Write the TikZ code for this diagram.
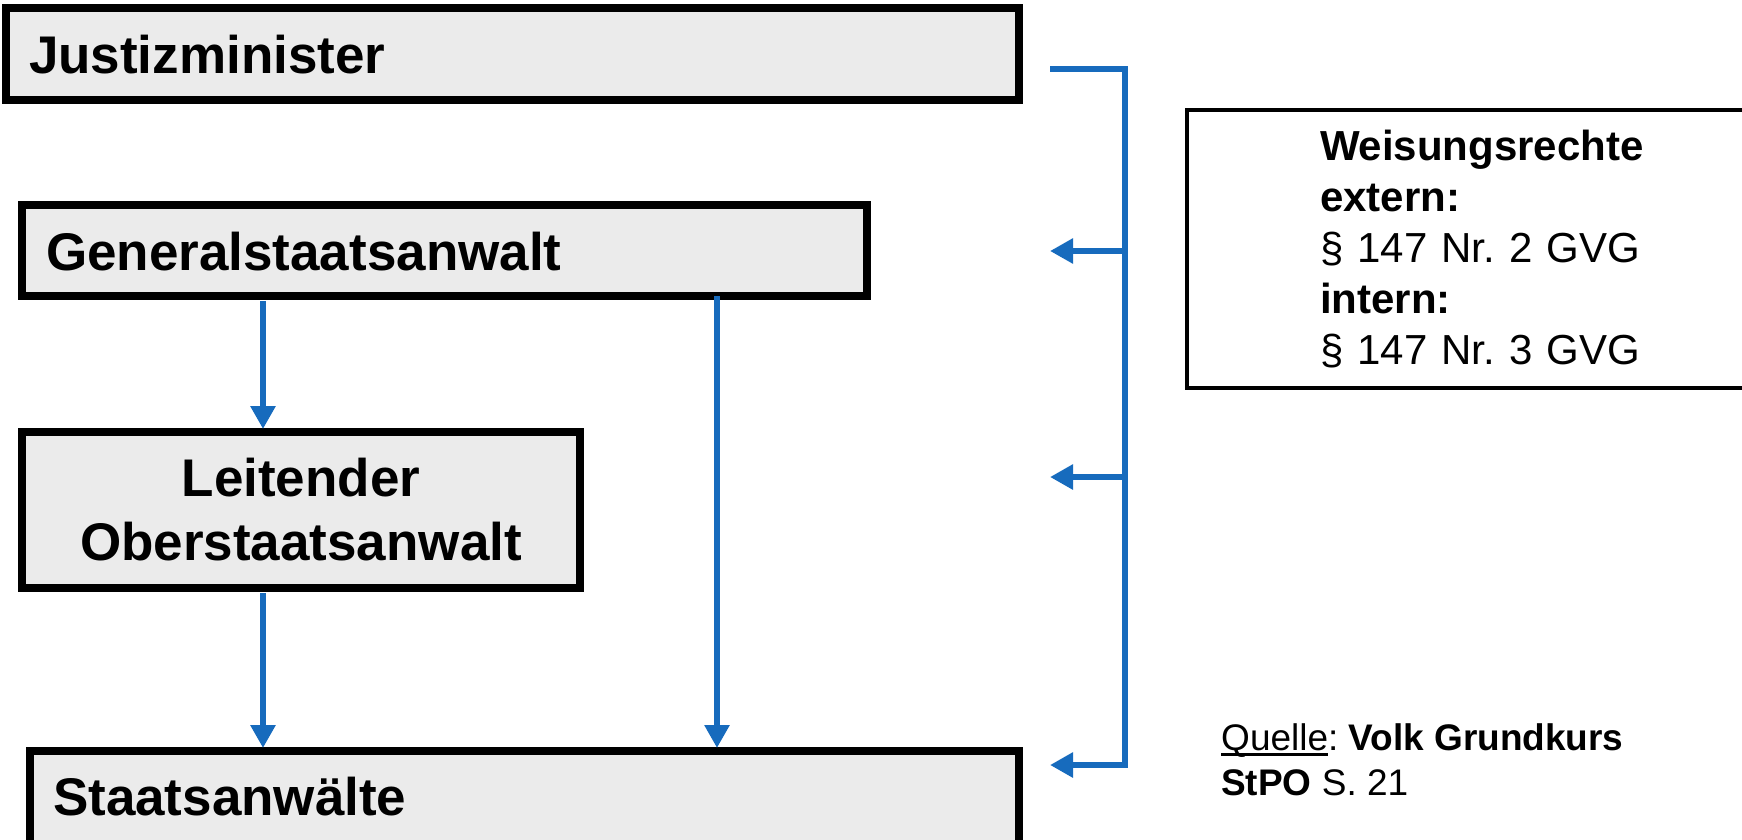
\documentclass[tikz,border=0pt]{standalone}
\usepackage{fontspec}
\setmainfont{Liberation Sans}
\usetikzlibrary{arrows.meta}
\definecolor{boxgray}{RGB}{235,235,235}
\definecolor{lineblue}{RGB}{23,107,189}
\newcommand\thickul[1]{\setbox0\hbox{#1}\rlap{\rule[-6pt]{\wd0}{3pt}}\box0}
\begin{document}
\frenchspacing
\begin{tikzpicture}[x=1pt,y=-1pt,
  orgbox/.style={draw=black, line width=8pt, fill=boxgray, rectangle, inner ysep=0pt, outer sep=0pt,
    font=\fontsize{53}{64}\selectfont\bfseries},
  infobox/.style={draw=black, line width=4pt, fill=white, rectangle, inner ysep=0pt, outer sep=0pt,
    font=\fontsize{42}{51}\selectfont},
  blueline/.style={draw=lineblue, line width=6.5pt},
  bluearrow/.style={blueline, -{Triangle[length=23pt,width=24pt]}},
]
\useasboundingbox (0,0) rectangle (1742,840);

% boxes
\node[orgbox, anchor=north west, minimum width=1013pt, minimum height=92pt,
      text width=967pt, inner xsep=23pt, align=left, text height=40pt, text depth=0pt]
  (jm) at (6,8) {Justizminister};
\node[orgbox, anchor=north west, minimum width=845pt, minimum height=91pt,
      text width=797pt, inner xsep=24pt, align=left, text height=39pt, text depth=0pt]
  (gen) at (22,205) {Generalstaatsanwalt};
\node[orgbox, anchor=north west, minimum width=558pt, minimum height=156pt,
      text width=520pt, inner xsep=19pt, align=center]
  (lo) at (22,432) {Leitender\\Oberstaatsanwalt};
\node[orgbox, anchor=north west, minimum width=989pt, minimum height=105pt,
      text width=943pt, inner xsep=23pt, align=left, text height=40pt, text depth=17pt]
  (sa) at (30,751) {Staatsanwälte};

\node[infobox, anchor=north west, minimum width=613pt, minimum height=278pt,
      text width=347pt, inner xsep=133pt, align=left]
  (info) at (1187,110) {\textbf{Weisungsrechte}\\\textbf{extern:}\\§ 147 Nr. 2 GVG\\\textbf{intern:}\\§ 147 Nr. 3 GVG};

\node[anchor=north west, align=left, inner sep=0pt, font=\fontsize{37}{45}\selectfont]
  (src) at (1221,723) {\thickul{Quelle}: \textbf{Volk Grundkurs}\\\textbf{StPO} S. 21};

% helper coordinates
\coordinate (colL) at (263,0);
\coordinate (colR) at (717,0);
\coordinate (brTopL) at (1050,69);
\coordinate (brTop) at (1125,69);
\coordinate (brGen) at (1125,251);
\coordinate (brLo) at (1125,477);
\coordinate (brBot) at (1125,765);
\coordinate (tipGen) at (1050,251);
\coordinate (tipLo) at (1050,477);
\coordinate (tipSa) at (1050,765);

% vertical arrows
\draw[bluearrow, shorten <=5pt, shorten >=3pt] (gen.south -| colL) -- (lo.north -| colL);
\draw[bluearrow, shorten <=5pt, shorten >=3pt] (lo.south -| colL) -- (sa.north -| colL);
\draw[bluearrow, shorten >=3pt] (gen.south -| colR) -- (sa.north -| colR);

% bracket
\draw[bluearrow] (brTopL) -- (brTop) -- (brBot) -- (tipSa);
\draw[bluearrow] (brGen) -- (tipGen);
\draw[bluearrow] (brLo) -- (tipLo);
\end{tikzpicture}
\end{document}
